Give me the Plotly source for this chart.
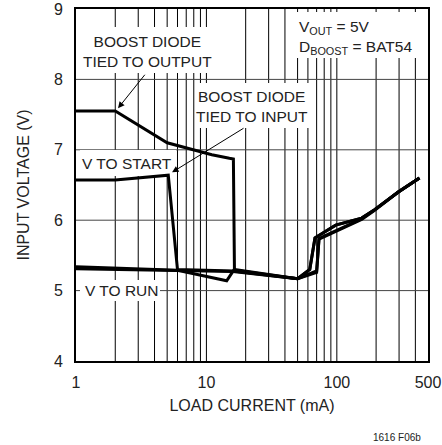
import numpy as np
import plotly.graph_objects as go

# Load current (mA) / input voltage (V) for each boost-diode configuration
out_start_x = [1, 2, 5, 9, 11, 15, 16.1, 16.4, 50, 62, 68, 98, 155, 195, 296, 430]
out_start_y = [7.55, 7.55, 7.10, 6.97, 6.93, 6.88, 6.87, 5.30, 5.17, 5.30, 5.75, 5.93, 6.03, 6.15, 6.40, 6.60]
out_run_x = [1, 6, 14.3, 16.2, 50, 62, 68, 98, 155, 195, 296, 430]
out_run_y = [5.34, 5.29, 5.14, 5.29, 5.17, 5.30, 5.75, 5.93, 6.03, 6.15, 6.40, 6.60]
in_start_x = [1, 2, 5.1, 6.0, 16, 50, 70, 73, 155, 195, 296, 430]
in_start_y = [6.57, 6.57, 6.64, 5.30, 5.28, 5.17, 5.28, 5.74, 6.02, 6.15, 6.40, 6.60]
in_run_x = [1, 6, 16, 50, 70, 73, 155, 195, 296, 430]
in_run_y = [5.31, 5.28, 5.27, 5.17, 5.26, 5.73, 6.01, 6.14, 6.40, 6.60]

x_major = [1, 10, 100, 500]
x_major_text = ["1", "10", "100", "500"]
x_minor = [2, 3, 4, 5, 6, 7, 8, 9, 20, 30, 40, 50, 60, 70, 80, 90, 200, 300, 400]
y_ticks = [4, 5, 6, 7, 8, 9]

INK = "#222222"
FONT = "Liberation Sans, Arial, sans-serif"

W, H = 442, 445
L, R, T, B = 76, 14, 9, 84
PW, PH = W - L - R, H - T - B


def px(x):
    return (x - L) / PW


def py(y):
    return 1 - (y - T) / PH


fig = go.Figure()
for xs, ys in [(in_run_x, in_run_y), (out_run_x, out_run_y),
               (in_start_x, in_start_y), (out_start_x, out_start_y)]:
    fig.add_trace(go.Scatter(x=xs, y=ys, mode="lines",
                             line=dict(color="black", width=3),
                             showlegend=False, hoverinfo="skip"))

# grid drawn as shapes so the label patches can sit on top of it
for v in x_major[1:-1] + x_minor:
    fig.add_shape(type="line", xref="x", yref="y domain", x0=v, x1=v, y0=0, y1=1,
                  line=dict(color="black", width=1), layer="below")
for v in y_ticks[1:-1]:
    fig.add_shape(type="line", xref="x domain", yref="y", x0=0, x1=1, y0=v, y1=v,
                  line=dict(color="#444444", width=1), layer="below")

# white patches behind the labels
for x0, x1, y0, y1 in [(80, 214, 27, 73), (195, 309, 83, 128),
                       (80, 176, 150, 176), (80, 160, 280, 301),
                       (293, 427, 12, 58)]:
    fig.add_shape(type="rect", xref="x domain", yref="y domain",
                  x0=px(x0), x1=px(x1), y0=py(y1), y1=py(y0),
                  fillcolor="white", line=dict(width=0), layer="below")

lbl = dict(font=dict(family=FONT, size=15.5, color=INK),
           showarrow=False, xref="paper", yref="paper", yanchor="middle")

fig.add_annotation(text="BOOST DIODE<br>TIED TO OUTPUT", x=px(147), y=py(51),
                   xanchor="center", **lbl)
fig.add_annotation(text="BOOST DIODE<br>TIED TO INPUT", x=px(252), y=py(106),
                   xanchor="center", **lbl)
fig.add_annotation(text="V TO START", x=px(127), y=py(163), xanchor="center", **lbl)
fig.add_annotation(text="V TO RUN", x=px(122), y=py(290), xanchor="center", **lbl)
fig.add_annotation(text="V<sub>OUT</sub> = 5V<br>D<sub>BOOST</sub> = BAT54",
                   x=px(297), y=py(37), xanchor="left", align="left", **lbl)

# arrows pointing at the curve corners
arr = dict(text="", showarrow=True, arrowhead=2, arrowsize=1.3, arrowwidth=1,
           arrowcolor="black", xref="x", yref="y", axref="pixel", ayref="pixel")
fig.add_annotation(x=np.log10(2.1), y=7.59, ax=28, ay=-35, **arr)
fig.add_annotation(x=np.log10(5.45), y=6.68, ax=73, ay=-45, **arr)

fig.add_annotation(text="1616 F06b", xref="paper", yref="paper", x=px(423), y=py(437),
                   xanchor="right", yanchor="middle", showarrow=False,
                   font=dict(family=FONT, size=10, color=INK))

fig.update_xaxes(type="log", range=[0, np.log10(500)], automargin=False,
                 tickvals=x_major, ticktext=x_major_text, showgrid=False,
                 showline=True, linecolor="black", linewidth=2, mirror=True,
                 ticks="", ticklabelstandoff=6,
                 tickfont=dict(family=FONT, size=16, color=INK),
                 title=dict(text="LOAD CURRENT (mA)", standoff=10,
                            font=dict(family=FONT, size=16, color=INK)),
                 zeroline=False)
fig.update_yaxes(range=[4, 9], tickvals=y_ticks, automargin=False, showgrid=False,
                 showline=True, linecolor="black", linewidth=2, mirror=True,
                 ticks="", ticklabelstandoff=8,
                 tickfont=dict(family=FONT, size=16, color=INK),
                 title=dict(text="INPUT VOLTAGE (V)", standoff=20,
                            font=dict(family=FONT, size=16, color=INK)),
                 zeroline=False)

fig.update_layout(width=W, height=H, margin=dict(l=L, r=R, t=T, b=B),
                  plot_bgcolor="rgba(0,0,0,0)", paper_bgcolor="white")

fig.write_html("out.html")
